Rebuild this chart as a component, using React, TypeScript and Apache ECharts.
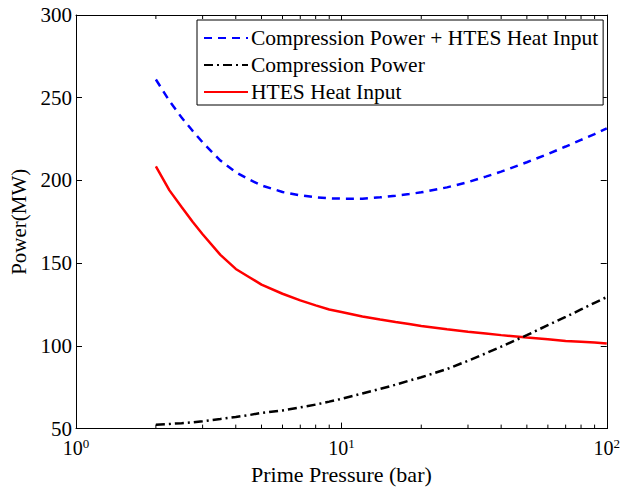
import React, { useEffect, useRef } from "react";
import * as echarts from "echarts";

const pressure = [2, 2.25, 2.5, 2.75, 3, 3.5, 4, 4.5, 5, 6, 7, 8, 9, 10, 12, 14, 16, 18, 20, 25, 30, 35, 40, 50, 60, 70, 80, 90, 100];
const totalPower = [261, 248, 238, 230, 223, 212, 205, 200.5, 197, 193, 191, 189.8, 189.2, 189, 189, 189.8, 190.8, 191.8, 192.8, 195.8, 199, 202.3, 205.3, 211, 216, 220.5, 224.5, 228, 231.5];
const compressionPower = [52.3, 52.8, 53.3, 53.8, 54.5, 55.8, 57, 58.2, 59.5, 61, 62.8, 64.5, 66.3, 68, 71.2, 74, 76.5, 79, 81, 86, 91, 95.5, 99.5, 106.5, 112.5, 117.5, 122, 126, 129.5];
const htesHeat = [208.5, 194, 184, 175, 167.5, 155, 146.5, 141.5, 137, 131.5, 127.5, 124.5, 122, 120.5, 117.8, 116, 114.5, 113.2, 112, 110, 108.5, 107.5, 106.5, 105, 104, 103, 102.5, 102, 101.5];
const minorTicks = [2, 3, 4, 5, 6, 7, 8, 9, 20, 30, 40, 50, 60, 70, 80, 90];
const seriesNames = ["Compression Power + HTES Heat Input", "Compression Power", "HTES Heat Input"];
const yMin = 50;
const yMax = 300;

const FONT = "Liberation Serif";

export default function App() {
  const ref = useRef<HTMLDivElement>(null);
  useEffect(() => {
    document.body.style.margin = "0";
    document.body.style.overflow = "hidden";
    const chart = echarts.init(ref.current!, null, { renderer: "svg" });
    const zip = (ys: number[]) => pressure.map((x, i) => [x, ys[i]]);
    const supLabel = (v: number) => {
      const e = Math.round(Math.log10(v));
      return `{b|10}{s|${e}}`;
    };
    const tickStyle = { show: true, inside: true, length: 6, lineStyle: { color: "#000", width: 1 } };
    chart.setOption({
      animation: false,
      backgroundColor: "#fff",
      grid: { left: 76, right: 13, top: 15, bottom: 54 },
      legend: {
        data: seriesNames,
        orient: "vertical",
        left: 197,
        top: 20,
        backgroundColor: "#fff",
        borderColor: "#000",
        borderWidth: 1,
        borderRadius: 0,
        padding: [7, 5, 2, 6],
        itemGap: 5,
        itemWidth: 44,
        itemHeight: 20,
        itemStyle: { opacity: 0 },
        textStyle: { fontFamily: FONT, fontSize: 21.5, color: "#000", padding: [0, 0, 0, -2] },
      },
      xAxis: [
        {
          type: "log",
          logBase: 10,
          min: 1,
          max: 100,
          name: "Prime Pressure (bar)",
          nameLocation: "middle",
          nameGap: 26,
          nameTextStyle: { fontFamily: FONT, fontSize: 22, color: "#000" },
          axisLine: { show: true, lineStyle: { color: "#000", width: 1 } },
          axisTick: tickStyle,
          splitLine: { show: false },
          axisLabel: {
            margin: 8,
            formatter: supLabel,
            rich: {
              b: { fontFamily: FONT, fontSize: 20, color: "#000" },
              s: { fontFamily: FONT, fontSize: 13, color: "#000", padding: [0, 0, 10, 0] },
            },
          },
        },
        {
          type: "log",
          logBase: 10,
          min: 1,
          max: 100,
          position: "top",
          axisLine: { show: true, lineStyle: { color: "#000", width: 1 } },
          axisTick: tickStyle,
          axisLabel: { show: false },
          splitLine: { show: false },
        },
      ],
      yAxis: [
        {
          type: "value",
          min: yMin,
          max: yMax,
          interval: 50,
          name: "Power(MW)",
          nameLocation: "middle",
          nameGap: 46,
          nameTextStyle: { fontFamily: FONT, fontSize: 21, color: "#000" },
          axisLine: { show: true, lineStyle: { color: "#000", width: 1 } },
          axisTick: tickStyle,
          splitLine: { show: false },
          axisLabel: { fontFamily: FONT, fontSize: 21, color: "#000", margin: 4 },
        },
        {
          type: "value",
          min: yMin,
          max: yMax,
          interval: 50,
          position: "right",
          axisLine: { show: true, lineStyle: { color: "#000", width: 1 } },
          axisTick: tickStyle,
          axisLabel: { show: false },
          splitLine: { show: false },
        },
      ],
      series: [
        {
          name: seriesNames[0],
          type: "line",
          data: zip(totalPower),
          symbol: "none",
          lineStyle: { color: "#0000ff", width: 2.5, type: [8, 6] },
          itemStyle: { color: "#0000ff" },
          z: 3,
        },
        {
          name: seriesNames[1],
          type: "line",
          data: zip(compressionPower),
          symbol: "none",
          lineStyle: { color: "#000", width: 2.5, type: [9, 4, 2, 4] },
          itemStyle: { color: "#000" },
          z: 3,
        },
        {
          name: seriesNames[2],
          type: "line",
          data: zip(htesHeat),
          symbol: "none",
          lineStyle: { color: "#ff0000", width: 2.5 },
          itemStyle: { color: "#ff0000" },
          z: 2,
        },
        {
          name: "minorTicks",
          type: "custom",
          data: minorTicks.map((v) => [v]),
          silent: true,
          z: 1,
          renderItem: (params: any, api: any) => {
            const b = api.coord([api.value(0), yMin]);
            const t = api.coord([api.value(0), yMax]);
            return {
              type: "group",
              children: [
                { type: "line", shape: { x1: b[0], y1: b[1], x2: b[0], y2: b[1] - 4 }, style: { stroke: "#000", lineWidth: 1 } },
                { type: "line", shape: { x1: t[0], y1: t[1], x2: t[0], y2: t[1] + 4 }, style: { stroke: "#000", lineWidth: 1 } },
              ],
            };
          },
        },
      ],
    });
    return () => chart.dispose();
  }, []);
  return <div ref={ref} style={{ width: 623, height: 490 }} />;
}
